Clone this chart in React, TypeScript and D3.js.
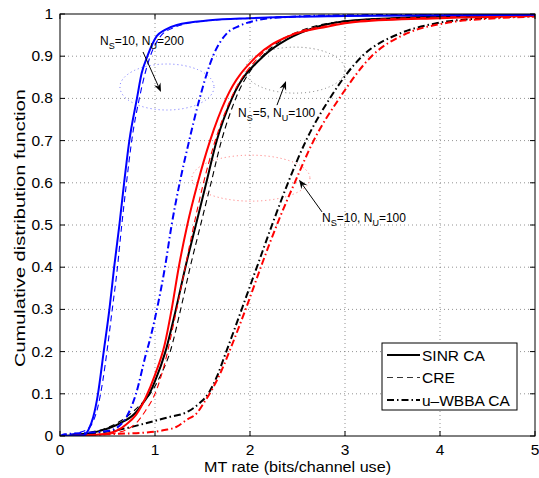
import React from 'react';
import * as d3 from 'd3';

type P = [number, number];

const xTicks = [0, 1, 2, 3, 4, 5];
const yTicks = [0, 0.1, 0.2, 0.3, 0.4, 0.5, 0.6, 0.7, 0.8, 0.9, 1];
const yTickLabels = ['0', '0.1', '0.2', '0.3', '0.4', '0.5', '0.6', '0.7', '0.8', '0.9', '1'];
const legendNames = ['SINR CA', 'CRE', 'u\u2013WBBA CA'];

// N_S=10, N_U=200 (blue)
const blueSolid: P[] = [[0,0],[0.25,0.002],[0.3,0.015],[0.35,0.045],[0.4,0.1],[0.46,0.2],[0.52,0.3],[0.57,0.4],[0.625,0.5],[0.675,0.6],[0.73,0.7],[0.81,0.8],[0.86,0.86],[0.92,0.9],[1.02,0.948],[1.1,0.962],[1.23,0.974],[1.58,0.985],[2.0,0.99],[3.0,0.995],[4,0.997],[5,0.998]];
const blueDashed: P[] = [[0,0],[0.1,0.004],[0.2,0.008],[0.3,0.018],[0.35,0.035],[0.4,0.07],[0.45,0.13],[0.5,0.21],[0.55,0.3],[0.6,0.39],[0.65,0.5],[0.7,0.6],[0.755,0.7],[0.835,0.8],[0.95,0.9],[1.05,0.945],[1.2,0.968],[1.5,0.983],[2,0.99],[3,0.996],[5,0.999]];
const blueDashDot: P[] = [[0,0],[0.05,0.004],[0.3,0.008],[0.5,0.012],[0.6,0.02],[0.7,0.045],[0.8,0.1],[0.9,0.19],[0.96,0.24],[1.02,0.3],[1.105,0.4],[1.175,0.5],[1.26,0.6],[1.36,0.7],[1.47,0.8],[1.61,0.9],[1.76,0.955],[1.89,0.972],[2.07,0.985],[2.4,0.993],[3,0.997],[5,0.999]];

// N_S=10, N_U=100 (red)
const redSolid: P[] = [[0,0],[0.3,0.002],[0.5,0.006],[0.6,0.013],[0.7,0.028],[0.8,0.05],[0.9,0.09],[1.0,0.145],[1.1,0.215],[1.175,0.3],[1.25,0.4],[1.34,0.5],[1.45,0.6],[1.58,0.7],[1.75,0.8],[2.07,0.9],[2.39,0.946],[2.81,0.97],[3.16,0.982],[4,0.99],[5,0.995]];
const redDashed: P[] = [[0,0],[0.4,0.002],[0.6,0.008],[0.7,0.015],[0.8,0.03],[0.9,0.06],[1.0,0.1],[1.1,0.17],[1.2,0.27],[1.3,0.38],[1.4,0.49],[1.5,0.59],[1.62,0.69],[1.8,0.8],[2.1,0.9],[2.4,0.948],[2.8,0.972],[3.2,0.985],[4,0.993],[5,0.997]];
const redDashDot: P[] = [[0,0],[0.3,0.002],[0.6,0.005],[0.9,0.008],[1.1,0.014],[1.23,0.022],[1.33,0.038],[1.44,0.054],[1.51,0.077],[1.6,0.11],[1.7,0.155],[1.8,0.21],[1.97,0.31],[2.13,0.41],[2.3,0.51],[2.47,0.6],[2.67,0.7],[2.94,0.8],[3.28,0.9],[3.65,0.954],[4.05,0.978],[4.6,0.99],[5,0.994]];

// N_S=5, N_U=100 (black)
const blackSolid: P[] = [[0,0],[0.1,0.001],[0.3,0.006],[0.45,0.014],[0.63,0.03],[0.79,0.054],[0.88,0.08],[0.94,0.1],[1.0,0.13],[1.11,0.2],[1.22,0.3],[1.32,0.4],[1.43,0.5],[1.54,0.6],[1.65,0.7],[1.81,0.8],[2.14,0.9],[2.39,0.94],[2.67,0.967],[2.98,0.982],[3.5,0.99],[4,0.994],[5,0.997]];
const blackDashed: P[] = [[0,0],[0.1,0.002],[0.3,0.008],[0.5,0.02],[0.7,0.045],[0.85,0.075],[0.95,0.1],[1.05,0.14],[1.16,0.2],[1.27,0.3],[1.37,0.4],[1.48,0.5],[1.59,0.6],[1.7,0.7],[1.85,0.8],[2.13,0.9],[2.35,0.94],[2.62,0.967],[2.95,0.982],[3.5,0.99],[4,0.994],[5,0.997]];
const blackDashDot: P[] = [[0,0],[0.2,0.003],[0.4,0.008],[0.6,0.014],[0.9,0.03],[1.15,0.045],[1.33,0.056],[1.47,0.078],[1.56,0.1],[1.65,0.14],[1.75,0.2],[1.84,0.255],[1.92,0.305],[2.08,0.405],[2.24,0.505],[2.4,0.6],[2.59,0.7],[2.84,0.8],[3.18,0.9],[3.58,0.954],[3.96,0.978],[4.45,0.99],[5,0.995]];

// annotation ellipses: [cx, cy, rx, ry] in data units
const ellipseBlue = [1.126, 0.827, 0.495, 0.0545];
const ellipseGray = [2.474, 0.867, 0.526, 0.0545];
const ellipseRed = [2.01, 0.611, 0.621, 0.0545];

const STYLES: Record<string, { w: number; dash?: string }> = {
  solid: { w: 2 },
  dashed: { w: 1.1, dash: '6,4' },
  dashdot: { w: 2, dash: '7,3,1.5,3' },
};

const FONT = 'Liberation Sans, Arial, Helvetica, sans-serif';

export default function App() {
  const W = 539, H = 478;
  const x = d3.scaleLinear().domain([0, 5]).range([60, 535]);
  const y = d3.scaleLinear().domain([0, 1]).range([436, 14]);
  const line = d3.line<P>().x(d => x(d[0])).y(d => y(d[1])).curve(d3.curveMonotoneX);

  const curves = [
    { d: blackDashed, c: '#000', s: 'dashed' },
    { d: blackSolid, c: '#000', s: 'solid' },
    { d: blackDashDot, c: '#000', s: 'dashdot' },
    { d: redDashed, c: '#ff0000', s: 'dashed' },
    { d: redSolid, c: '#ff0000', s: 'solid' },
    { d: redDashDot, c: '#ff0000', s: 'dashdot' },
    { d: blueDashed, c: '#0000ff', s: 'dashed' },
    { d: blueSolid, c: '#0000ff', s: 'solid' },
    { d: blueDashDot, c: '#0000ff', s: 'dashdot' },
  ];

  const x0 = x(0), x1 = x(5), y0 = y(0), y1 = y(1);

  const ell = (e: number[], color: string) => (
    <ellipse cx={x(e[0])} cy={y(e[1])} rx={x(e[0] + e[2]) - x(e[0])} ry={y(e[1]) - y(e[1] + e[3])}
      fill="none" stroke={color} strokeWidth={1} strokeDasharray="1,3" />
  );

  const arrow = (a: P, b: P) => {
    const ax = x(a[0]), ay = y(a[1]), bx = x(b[0]), by = y(b[1]);
    const ang = Math.atan2(by - ay, bx - ax);
    const L = 9, Wd = 3.5;
    const p1 = [bx - L * Math.cos(ang) + Wd * Math.sin(ang), by - L * Math.sin(ang) - Wd * Math.cos(ang)];
    const p2 = [bx - L * Math.cos(ang) - Wd * Math.sin(ang), by - L * Math.sin(ang) + Wd * Math.cos(ang)];
    const p3 = [bx - 6 * Math.cos(ang), by - 6 * Math.sin(ang)];
    return (
      <g>
        <line x1={ax} y1={ay} x2={p3[0]} y2={p3[1]} stroke="#000" strokeWidth={1} />
        <path d={`M${bx},${by}L${p1[0]},${p1[1]}L${p3[0]},${p3[1]}L${p2[0]},${p2[1]}Z`} fill="#000" />
      </g>
    );
  };

  const label = (pos: P, s: string, u: string) => (
    <text x={x(pos[0])} y={y(pos[1])} fontSize={12} fontFamily={FONT} fill="#000">
      N<tspan fontSize={9} dy={4}>S</tspan><tspan dy={-4}>={s}, N</tspan><tspan fontSize={9} dy={4}>U</tspan><tspan dy={-4}>={u}</tspan>
    </text>
  );

  const legX = 382, legY = 343, legW = 135, legH = 67;

  return (
    <svg width={W} height={H} style={{ position: 'absolute', left: 0, top: 0, background: '#fff' }}>
      <rect x={0} y={0} width={W} height={H} fill="#fff" />
      <defs>
        <clipPath id="plot"><rect x={x0} y={y1} width={x1 - x0} height={y0 - y1} /></clipPath>
      </defs>
      {/* grid */}
      {xTicks.slice(1, -1).map(t => (
        <line key={'gx' + t} x1={x(t)} x2={x(t)} y1={y0} y2={y1} stroke="#777" strokeWidth={0.8} strokeDasharray="1,3" />
      ))}
      {yTicks.slice(1, -1).map(t => (
        <line key={'gy' + t} x1={x0} x2={x1} y1={y(t)} y2={y(t)} stroke="#777" strokeWidth={0.8} strokeDasharray="1,3" />
      ))}
      {/* ellipses */}
      {ell(ellipseBlue, '#6a6aff')}
      {ell(ellipseGray, '#777')}
      {ell(ellipseRed, '#ff7070')}
      {/* curves */}
      <g clipPath="url(#plot)">
        {curves.map((c, i) => (
          <path key={i} d={line(c.d) || ''} fill="none" stroke={c.c} strokeWidth={STYLES[c.s].w}
            strokeDasharray={STYLES[c.s].dash} strokeLinejoin="round" />
        ))}
      </g>
      {/* frame */}
      <rect x={x0} y={y1} width={x1 - x0} height={y0 - y1} fill="none" stroke="#000" strokeWidth={1} />
      {/* ticks */}
      {xTicks.map(t => (
        <g key={'tx' + t}>
          <line x1={x(t)} x2={x(t)} y1={y0} y2={y0 - 5} stroke="#000" />
          <line x1={x(t)} x2={x(t)} y1={y1} y2={y1 + 5} stroke="#000" />
          <text x={x(t)} y={455} textAnchor="middle" fontSize={15.5} fontFamily={FONT}>{t}</text>
        </g>
      ))}
      {yTicks.map((t, i) => (
        <g key={'ty' + t}>
          <line x1={x0} x2={x0 + 5} y1={y(t)} y2={y(t)} stroke="#000" />
          <line x1={x1} x2={x1 - 5} y1={y(t)} y2={y(t)} stroke="#000" />
          <text x={53} y={y(t) + 5} textAnchor="end" fontSize={15.5} fontFamily={FONT}>{yTickLabels[i]}</text>
        </g>
      ))}
      {/* axis labels */}
      <text x={(x0 + x1) / 2} y={472} textAnchor="middle" fontSize={15} fontFamily={FONT}
        textLength={187} lengthAdjust="spacingAndGlyphs">MT rate (bits/channel use)</text>
      <text transform={`translate(24.5,${(y0 + y1) / 2 + 3}) rotate(-90)`} textAnchor="middle" fontSize={15.5} fontFamily={FONT}
        textLength={278} lengthAdjust="spacingAndGlyphs">Cumulative distribution function</text>
      {/* annotations */}
      {label([0.421, 0.9265], '10', '200')}
      {arrow([0.874, 0.91], [1.063, 0.815])}
      {label([1.874, 0.756], '5', '100')}
      {arrow([2.284, 0.784], [2.379, 0.841])}
      {label([2.758, 0.507], '10', '100')}
      {arrow([2.758, 0.531], [2.516, 0.607])}
      {/* legend */}
      <rect x={legX} y={legY} width={legW} height={legH} fill="#fff" stroke="#000" strokeWidth={1} />
      {['solid', 'dashed', 'dashdot'].map((s, i) => (
        <g key={s}>
          <line x1={legX + 5} x2={legX + 38} y1={legY + 12 + i * 22.5} y2={legY + 12 + i * 22.5}
            stroke="#000" strokeWidth={s === 'dashed' ? 0.8 : STYLES[s].w} strokeDasharray={STYLES[s].dash} />
          <text x={legX + 40} y={legY + 17.5 + i * 22.5} fontSize={15.5} fontFamily={FONT}>{legendNames[i]}</text>
        </g>
      ))}
    </svg>
  );
}
